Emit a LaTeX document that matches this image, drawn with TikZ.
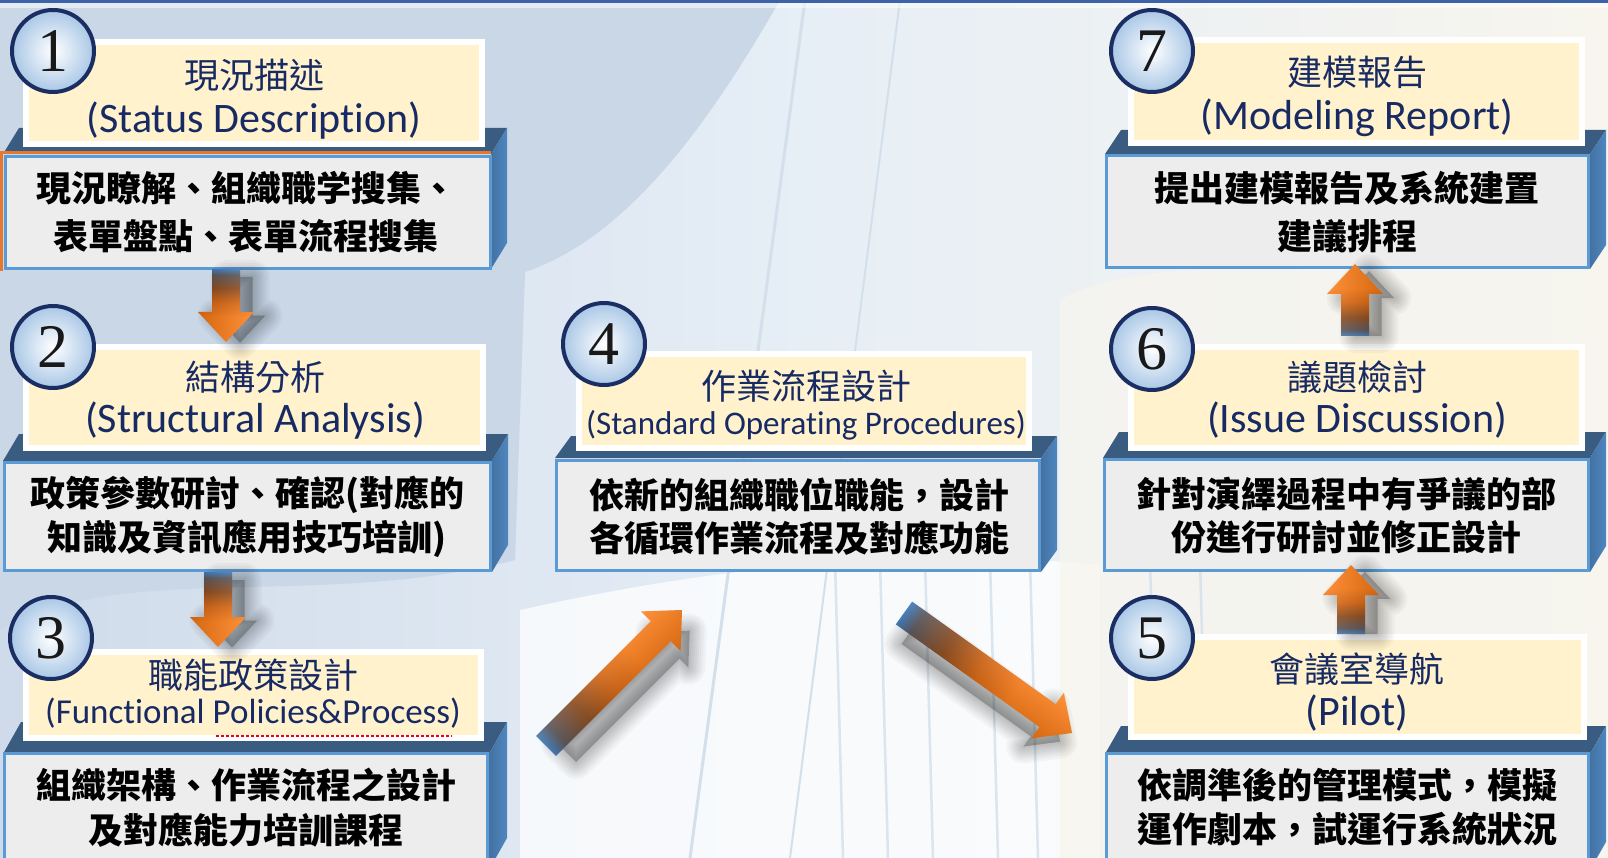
\documentclass[tikz,border=0pt]{standalone}
\usepackage{fontspec}
\setmainfont{Carlito}[Ligatures=NoCommon]
\newfontfamily\cjk{Noto Sans CJK TC}
\newfontfamily\numfont{Liberation Serif}

\definecolor{navy}{HTML}{172A63}
\definecolor{circline}{HTML}{1B2E63}
\definecolor{circout}{HTML}{A9C7E6}
\definecolor{cream}{HTML}{FFF2CC}
\definecolor{grayfill}{HTML}{EDEDED}
\definecolor{boxblue}{HTML}{5B9BD5}
\definecolor{topface}{HTML}{3A5C80}
\definecolor{sideface}{HTML}{4F86BF}
\definecolor{selorange}{HTML}{E8772E}
\definecolor{arrblue}{HTML}{3D7DC2}
\definecolor{arrgray}{HTML}{5A5458}
\definecolor{arrbrown}{HTML}{8E4A1A}
\definecolor{arrorange}{HTML}{FF7C14}
\definecolor{arrdeep}{HTML}{DD660E}
\definecolor{bgL}{HTML}{CFDBEA}
\definecolor{bgM}{HTML}{E6EEF6}
\definecolor{bgR}{HTML}{F7F5EE}
\definecolor{bgdark}{HTML}{C9D7E7}
\definecolor{bgline}{HTML}{D3E0EC}
\definecolor{topbar}{HTML}{3C62A8}
\definecolor{squig}{HTML}{E8001C}

\pgfdeclarehorizontalshading{arrowsh}{100bp}{color(0bp)=(arrblue); color(25bp)=(arrblue); color(29bp)=(arrgray); color(38bp)=(arrbrown); color(48bp)=(arrdeep); color(58bp)=(arrorange); color(100bp)=(arrorange)}

% depth block of a step: gx1, gy1, gx2, gy2, dtop, dx2
\newcommand\stepdepth[6]{%
  \fill[topface] (#1,#2) -- ({#1+#6-#3},#5) -- (#6,#5) -- (#3,#2) -- cycle;
  \shade[left color=sideface!85!black, right color=sideface] (#3,#2) -- (#6,#5) -- (#6,{#4-#2+#5}) -- (#3,#4) -- cycle;
}

\newcommand\FApath{(0pt,-14pt) -- (\FAbase pt,-14pt) -- (\FAbase pt,-28pt) -- (\FAlen pt,0pt) -- (\FAbase pt,28pt) -- (\FAbase pt,14pt) -- (0pt,14pt) -- cycle}
% fat shaded arrow from named coordinate #1 to named coordinate #2; #3,#4 shadow shift (local frame)
\newcommand\fatarrow[4]{%
  \pgfpointdiff{\pgfpointanchor{#1}{center}}{\pgfpointanchor{#2}{center}}%
  \pgfgetlastxy{\FAx}{\FAy}%
  \pgfmathsetmacro\FAang{atan2(\FAy,\FAx)}%
  \pgfmathsetmacro\FAlen{veclen(\FAx,\FAy)}%
  \pgfmathsetmacro\FAbase{\FAlen-30}%
  \begin{scope}[transform canvas={shift={(#1)},rotate=\FAang}]
    \foreach \w in {34,29,24,20,16,12,8,4}
      \filldraw[black, opacity=0.032, line width=\w pt, line join=round, shift={(#3pt,#4pt)}, scale=0.9] \FApath;
    \shade[shading=arrowsh] \FApath;
    \shade[top color=white, bottom color=black, opacity=0.16] \FApath;
  \end{scope}}

\tikzset{
  titlebox/.style={draw=white, line width=6pt, fill=cream, inner sep=0pt},
  graybox/.style={draw=boxblue, line width=3pt, fill=grayfill, inner sep=0pt},
  numcirc/.style={circle, draw=circline, line width=4pt, minimum size=82pt, inner sep=0pt,
    inner color=white, outer color=circout, font=\numfont\fontsize{62}{62}\selectfont, text=black!90},
  htc/.style={font=\cjk\fontsize{35}{35}\selectfont, text=navy, inner sep=0pt},
  hte/.style={font=\fontsize{42}{42}\selectfont, text=navy, inner sep=0pt},
  body/.style={font=\cjk\bfseries\fontsize{35}{#1}\selectfont, align=center, inner sep=0pt, text=black},
  body/.default=46
}

\begin{document}
\begin{tikzpicture}[x=1pt, y=-1pt]
\useasboundingbox (0,0) rectangle (1608,858);
\clip (0,0) rectangle (1608,858);

% ---------- background ----------
\shade[left color=bgL, right color=bgR, middle color=bgM] (0,0) rectangle (1608,858);
\fill[bgdark] (0,0) -- (780,0) .. controls (700,140) and (620,240) .. (525,272) -- (515,560) .. controls (320,610) and (120,560) .. (0,630) -- cycle;
\fill[white, opacity=0.75] (520,610) .. controls (700,570) and (900,545) .. (1100,565) -- (1100,858) -- (520,858) -- cycle;
\fill[bgR, opacity=0.7] (1060,300) .. controls (1150,250) and (1300,280) .. (1608,250) -- (1608,858) -- (1060,858) -- cycle;
\draw[bgline, line width=3pt] (805,0) -- (690,858);
\draw[bgline, line width=2pt] (900,0) -- (790,858);
\foreach \lx in {835,880,925,990,1030,1150,1200} \draw[bgline, line width=2.5pt, opacity=0.8] (\lx,560) -- (\lx+8,858);
\fill[topbar] (0,0) rectangle (1608,3.5);
\fill[white, opacity=0.5] (0,3.5) rectangle (1608,8);

% ---------- depth blocks ----------
\stepdepth{3}{154}{491}{269}{128}{507}
\stepdepth{3}{461}{492}{572}{434}{508}
\stepdepth{3}{754}{489}{870}{722}{507}
\stepdepth{555}{458}{1041}{572}{436}{1057}
\stepdepth{1105}{154}{1590}{269}{130}{1606}
\stepdepth{1103}{458}{1590}{572}{432}{1606}
\stepdepth{1105}{754}{1590}{870}{726}{1606}

% ---------- title boxes ----------
\node[titlebox, minimum width=456pt, minimum height=102pt] (h1) at (254,93) {};
\node[titlebox, minimum width=457pt, minimum height=101pt] (h2) at (254.5,397.5) {};
\node[titlebox, minimum width=455pt, minimum height=86pt] (h3) at (253.5,695) {};
\node[titlebox, minimum width=450pt, minimum height=94pt] (h4) at (804,401) {};
\node[titlebox, minimum width=451pt, minimum height=103pt] (h7) at (1356.5,91.5) {};
\node[titlebox, minimum width=451pt, minimum height=101pt] (h6) at (1356.5,397.5) {};
\node[titlebox, minimum width=453pt, minimum height=100pt] (h5) at (1357.5,687) {};

% ---------- gray boxes ----------
\draw[selorange, line width=3pt] (1.5,271) -- (1.5,152.5) -- (491,152.5);
\node[graybox, minimum width=485pt, minimum height=112pt] (g1) at (248,213) {};
\node[graybox, minimum width=486pt, minimum height=108pt] (g2) at (247.5,516.5) {};
\node[graybox, minimum width=483pt, minimum height=113pt] (g3) at (246,810) {};
\node[graybox, minimum width=483pt, minimum height=110pt] (g4) at (798,515) {};
\node[graybox, minimum width=482pt, minimum height=112pt] (g7) at (1347.5,211.5) {};
\node[graybox, minimum width=484pt, minimum height=111pt] (g6) at (1346.5,515) {};
\node[graybox, minimum width=482pt, minimum height=113pt] (g5) at (1347.5,810) {};

% ---------- title texts ----------
\node[htc] (h1c) at (254,75) {現況描述};
\node[hte] (h1e) at (254,121) {(Status Description)};
\node[htc] (h2c) at (255,377) {結構分析};
\node[hte] (h2e) at (255,421) {(Structural Analysis)};
\node[htc] (h3c) at (253,675) {職能政策設計};
\node[hte, font=\fontsize{35}{35}\selectfont] (h3e) at (253,713) {(Functional Policies\&Process)};
\draw[squig, line width=1.6pt, dash pattern=on 3pt off 2pt] (216,736) -- (452,736);
\node[htc] (h4c) at (806,386) {作業流程設計};
\node[hte, font=\fontsize{33}{33}\selectfont] (h4e) at (806,425) {(Standard Operating Procedures)};
\node[htc] (h7c) at (1357,72) {建模報告};
\node[hte] (h7e) at (1357,118) {(Modeling Report)};
\node[htc] (h6c) at (1357,377) {議題檢討};
\node[hte] (h6e) at (1357,420) {(Issue Discussion)};
\node[htc] (h5c) at (1357,669) {會議室導航};
\node[hte] (h5e) at (1357,713) {(Pilot)};

% ---------- body texts ----------
\node[body=48] (b1) at (246,212) {現況瞭解、組織職学搜集、\\表單盤點、表單流程搜集};
\node[body=44] (b2) at (247,517) {政策參數研討、確認(對應的\\知識及資訊應用技巧培訓)};
\node[body=45] (b3) at (246,808) {組織架構、作業流程之設計\\及對應能力培訓課程};
\node[body=43] (b4) at (799,517) {依新的組織職位職能，設計\\各循環作業流程及對應功能};
\node[body=48] (b7) at (1347,212) {提出建模報告及系統建置\\建議排程};
\node[body=43] (b6) at (1346,516) {針對演繹過程中有爭議的部\\份進行研討並修正設計};
\node[body=44] (b5) at (1347,807) {依調準後的管理模式，模擬\\運作劇本，試運行系統狀況};

% ---------- number circles ----------
\node[numcirc] (c1) at (53,51) {1};
\node[numcirc] (c2) at (53,347) {2};
\node[numcirc] (c3) at (51,638) {3};
\node[numcirc] (c4) at (604,344) {4};
\node[numcirc] (c7) at (1152,51) {7};
\node[numcirc] (c6) at (1152,349) {6};
\node[numcirc] (c5) at (1152,638) {5};

% ---------- arrows ----------
\coordinate (a12s) at (226,269);  \coordinate (a12e) at (226,342);
\coordinate (a23s) at (218,572);  \coordinate (a23e) at (218,647);
\coordinate (a34s) at (546,746);  \coordinate (a34e) at (682,610);
\coordinate (a45s) at (904,613);  \coordinate (a45e) at (1072,733);
\coordinate (a56s) at (1351,634); \coordinate (a56e) at (1351,565);
\coordinate (a67s) at (1355,336); \coordinate (a67e) at (1355,264);
\fatarrow{a12s}{a12e}{8}{14}
\fatarrow{a23s}{a23e}{8}{14}
\fatarrow{a34s}{a34e}{10}{-20}
\fatarrow{a45s}{a45e}{16}{-14}
\fatarrow{a56s}{a56e}{0}{-14}
\fatarrow{a67s}{a67e}{0}{-14}
\end{tikzpicture}
\end{document}
